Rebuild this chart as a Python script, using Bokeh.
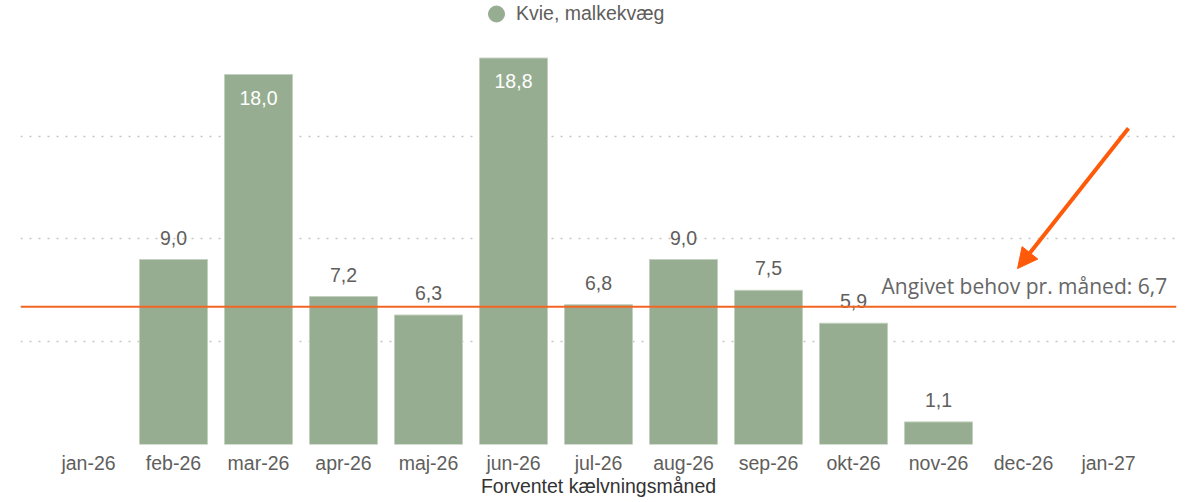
from bokeh.plotting import figure
from bokeh.models import (FactorRange, Range1d, FixedTicker, Span, Label, Arrow,
                          NormalHead, Legend, LegendItem, ColumnDataSource)
from bokeh.core.properties import value
from bokeh.embed import file_html
from bokeh.resources import INLINE

# ---- data ----
months = ["jan-26", "feb-26", "mar-26", "apr-26", "maj-26", "jun-26", "jul-26",
          "aug-26", "sep-26", "okt-26", "nov-26", "dec-26", "jan-27"]
heifers = [None, 9.0, 18.0, 7.2, 6.3, 18.8, 6.8, 9.0, 7.5, 5.9, 1.1, None, None]
series_name = "Kvie, malkekvæg"
need_per_month = 6.7
need_label = "Angivet behov pr. måned: 6,7"
x_title = "Forventet kælvningsmåned"
y_ticks = [0, 5, 10, 15]

BAR = "#97ad91"
GRAY = "#605e5c"
ORANGE = "#f26522"
ARROW = "#ff5a0a"

bx = [m for m, v in zip(months, heifers) if v is not None]
bv = [v for v in heifers if v is not None]
lab = [f"{v:.1f}".replace(".", ",") for v in bv]
inside = [v >= 17 for v in bv]

src_bars = ColumnDataSource(dict(x=bx, top=bv))
src_out = ColumnDataSource(dict(x=[x for x, i in zip(bx, inside) if not i],
                                y=[v for v, i in zip(bv, inside) if not i],
                                t=[t for t, i in zip(lab, inside) if not i]))
src_in = ColumnDataSource(dict(x=[x for x, i in zip(bx, inside) if i],
                               y=[v for v, i in zip(bv, inside) if i],
                               t=[t for t, i in zip(lab, inside) if i]))

p = figure(width=1187, height=500, output_backend="svg", toolbar_location=None,
           x_range=FactorRange(*months, range_padding=0.3, range_padding_units="absolute"),
           y_range=Range1d(0, 21.6),
           min_border_left=20, min_border_right=11, min_border_top=0, min_border_bottom=56)
p.outline_line_color = None
p.background_fill_color = "white"
p.border_fill_color = "white"

p.vbar(x="x", top="top", width=0.8, source=src_bars, fill_color=BAR,
       line_color="#c3d0bf", line_width=1)

p.text(x="x", y="y", text="t", source=src_out, text_align="center",
       text_baseline="middle", y_offset=-22, text_color=GRAY,
       text_font=value("Liberation Sans"), text_font_size="19.5px")
p.text(x="x", y="y", text="t", source=src_in, text_align="center",
       text_baseline="middle", y_offset=23, text_color="white",
       text_font=value("Liberation Sans"), text_font_size="19.5px")

# grid
p.xgrid.visible = False
p.ygrid.ticker = FixedTicker(ticks=y_ticks)
p.ygrid.grid_line_color = "#c4c4c4"
p.ygrid.grid_line_dash = "2 7"
p.ygrid.grid_line_width = 1.5
p.yaxis.visible = False

# x axis
ax = p.xaxis[0]
ax.axis_line_color = None
ax.major_tick_line_color = None
ax.minor_tick_line_color = None
ax.major_tick_out = 0
ax.major_tick_in = 0
ax.major_label_standoff = 7
ax.major_label_text_font = "Liberation Sans"
ax.major_label_text_font_size = "19.5px"
ax.major_label_text_color = GRAY
ax.axis_label = x_title
ax.axis_label_standoff = -2
ax.axis_label_text_font = "Liberation Sans"
ax.axis_label_text_font_size = "19.5px"
ax.axis_label_text_font_style = "normal"
ax.axis_label_text_color = "#333333"

# need line
p.add_layout(Span(location=need_per_month, dimension="width", line_color=ORANGE,
                  line_width=2))
p.add_layout(Label(x=13.19, y=need_per_month, text=need_label, text_align="right",
                   text_baseline="bottom", y_offset=7, text_color="#666666",
                   text_font="Open Sans", text_font_size="21px"))
p.add_layout(Arrow(x_start=12.735, y_start=15.38, x_end=11.43, y_end=8.56,
                   line_color=ARROW, line_width=4,
                   end=NormalHead(size=20, fill_color=ARROW, line_color=ARROW)))

# legend (marker renderer of size 0 on the bar data, only used for the legend swatch)
swatch = p.scatter(x="x", y="top", source=src_bars, marker="circle", size=0,
                   fill_color=BAR, line_color=BAR)
leg = Legend(items=[LegendItem(label=series_name, renderers=[swatch])],
             location=(456, 408), orientation="horizontal",
             glyph_width=40, glyph_height=45, label_standoff=0,
             padding=0, margin=0, spacing=0, border_line_color=None,
             background_fill_alpha=0, label_text_font="Liberation Sans",
             label_text_font_size="19.5px", label_text_color=GRAY,
             label_text_baseline="middle")
p.add_layout(leg, "center")

open("out.html", "w").write(file_html(p, INLINE))
